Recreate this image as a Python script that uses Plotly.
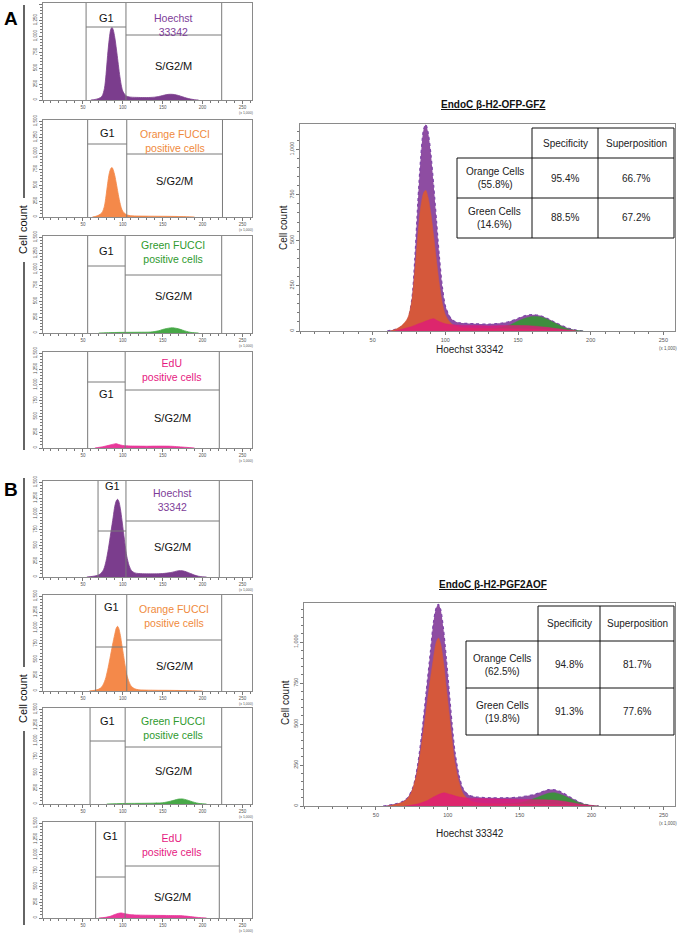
import plotly.graph_objects as go

W, H = 684, 938
FONT = "Arial, Liberation Sans, sans-serif"

def PX(p):
    return p / W

def PY(p):
    return 1 - p / H

# ---------------- DATA ----------------
# Panel A (EndoC b-H2-OFP-GFZ) histograms, Hoechst 33342 (x 1,000) vs cell count
A_hoechst_x = [60, 65, 70, 74, 77, 79, 81, 83, 85, 86.5, 88, 90, 92, 94, 96, 98, 100, 103, 106, 110, 120, 130, 140, 145, 150, 155, 160, 165, 170, 175, 180, 185, 190, 195]
A_hoechst_y = [0, 8, 25, 60, 180, 400, 700, 950, 1110, 1137, 1100, 980, 800, 600, 400, 240, 140, 80, 55, 45, 40, 38, 45, 55, 70, 85, 90, 85, 70, 50, 30, 15, 5, 0]
A_orange_x = [62, 66, 70, 74, 77, 79, 81, 83, 85, 86.5, 88, 90, 92, 94, 96, 98, 100, 103, 106, 110, 120, 140, 160, 180, 190]
A_orange_y = [0, 10, 30, 70, 170, 330, 520, 680, 760, 775, 740, 650, 520, 380, 250, 150, 90, 50, 30, 20, 15, 12, 10, 5, 0]
A_green_x = [70, 80, 90, 100, 120, 135, 145, 150, 155, 160, 165, 170, 175, 180, 185, 190, 195]
A_green_y = [0, 5, 8, 10, 12, 15, 35, 55, 70, 80, 78, 65, 45, 25, 10, 3, 0]
A_edu_x = [65, 70, 75, 80, 85, 90, 92, 95, 100, 110, 120, 130, 140, 150, 160, 170, 180, 190]
A_edu_y = [0, 10, 20, 35, 50, 65, 68, 55, 40, 32, 30, 28, 30, 30, 28, 20, 10, 0]

# Panel B (EndoC b-H2-PGF2AOF)
B_hoechst_x = [55, 62, 68, 72, 76, 79, 82, 85, 88, 90, 92, 93.5, 95, 97, 99, 101, 103, 105, 108, 111, 115, 120, 130, 140, 150, 160, 165, 170, 175, 180, 185, 190, 195, 200, 205]
B_hoechst_y = [0, 10, 25, 50, 120, 250, 450, 700, 950, 1120, 1210, 1230, 1200, 1080, 900, 700, 500, 330, 180, 100, 65, 55, 50, 50, 55, 70, 85, 100, 98, 80, 55, 30, 12, 3, 0]
B_orange_x = [58, 64, 70, 74, 78, 81, 84, 87, 90, 92, 93.5, 95, 97, 99, 101, 103, 105, 108, 111, 115, 120, 140, 160, 180, 200]
B_orange_y = [0, 10, 30, 70, 180, 330, 520, 720, 900, 1000, 1024, 990, 880, 720, 560, 400, 260, 140, 70, 35, 20, 12, 10, 6, 0]
B_green_x = [80, 100, 130, 150, 160, 165, 170, 175, 180, 185, 190, 195, 200, 205]
B_green_y = [0, 8, 12, 20, 45, 62, 78, 80, 65, 45, 25, 10, 3, 0]
B_edu_x = [70, 78, 85, 90, 95, 98, 102, 108, 115, 125, 140, 155, 165, 175, 185, 195, 205]
B_edu_y = [0, 10, 30, 55, 75, 80, 70, 55, 48, 45, 42, 40, 38, 35, 22, 8, 0]

# Tables
table_header = ["Specificity", "Superposition"]
A_row_names = ["Orange Cells", "Green Cells"]
A_row_pct = ["55.8%", "14.6%"]
A_specificity = ["95.4%", "88.5%"]
A_superposition = ["66.7%", "67.2%"]
B_row_names = ["Orange Cells", "Green Cells"]
B_row_pct = ["62.5%", "19.8%"]
B_specificity = ["94.8%", "91.3%"]
B_superposition = ["81.7%", "77.6%"]

titles = ["EndoC β-H2-OFP-GFZ", "EndoC β-H2-PGF2AOF"]
small_labels = ["Hoechst<br>33342", "Orange FUCCI<br>positive cells", "Green FUCCI<br>positive cells", "EdU<br>positive cells"]
small_ticks_x = [50, 100, 150, 200, 250]
small_ticks_y = [0, 250, 500, 750, 1000, 1250, 1500]
big_ticks_y = [0, 250, 500, 750, 1000]

# ---------------- STYLE ----------------
SM_COL = {"h": "#7B3D8D", "o": "#F4894A", "g": "#47A847", "e": "#E8399A"}
LBL_COL = ["#7D3C98", "#F08A3C", "#2E9A2E", "#E6197F"]
BIG_FILL = {"h": "#8E4DA2", "o": "#D5583B", "g": "#3E8E3E", "e": "rgba(222,26,122,0.8)"}

fig = go.Figure()
layout = dict(width=W, height=H, margin=dict(l=0, r=0, t=0, b=0, pad=0, autoexpand=False),
              template="none",
              paper_bgcolor="white", plot_bgcolor="white", showlegend=False,
              font=dict(family=FONT, color="#222"))
shapes = []
annots = []

def ann(**kw):
    kw.setdefault("showarrow", False)
    kw.setdefault("xanchor", "center")
    kw.setdefault("yanchor", "middle")
    annots.append(kw)

def axis_names(i):
    if i == 0:
        return "x", "y", "xaxis", "yaxis"
    return f"x{i+1}", f"y{i+1}", f"xaxis{i+1}", f"yaxis{i+1}"

def add_axes(i, xdom, ydom, xrange, yrange, yticks, fs):
    xa, ya, xk, yk = axis_names(i)
    common = dict(showline=True, linecolor="#8a8a8a", linewidth=1, mirror=True,
                  ticks="outside", ticklen=3, tickcolor="#777", showgrid=False,
                  zeroline=False, fixedrange=True, automargin=False,
                  tickfont=dict(size=fs, color="#555", family=FONT))
    layout[xk] = dict(domain=xdom, range=xrange, anchor=ya, tickmode="array",
                      tickvals=small_ticks_x,
                      minor=dict(tickmode="linear", tick0=0, dtick=10, ticklen=2,
                                 ticks="outside", tickcolor="#777"), **common)
    layout[yk] = dict(domain=ydom, range=yrange, anchor=xa, tickmode="array",
                      tickvals=yticks, tickformat=",", tickangle=-90,
                      minor=dict(tickmode="linear", tick0=0, dtick=50, ticklen=2,
                                 ticks="outside", tickcolor="#777"), **common)
    return xa, ya

# ---------------- SMALL PANELS ----------------
series_A = [(A_hoechst_x, A_hoechst_y, "h"), (A_orange_x, A_orange_y, "o"),
            (A_green_x, A_green_y, "g"), (A_edu_x, A_edu_y, "e")]
series_B = [(B_hoechst_x, B_hoechst_y, "h"), (B_orange_x, B_orange_y, "o"),
            (B_green_x, B_green_y, "g"), (B_edu_x, B_edu_y, "e")]

# (top, bottom, gates(g1_left, g1_right, s_right), g1_line, s_line, g1_text, label_y, s_text)
small_pos_A = [
    (3, 100, (54, 104, 224), 27, 35, 18, 25, 66),
    (120, 217, (56, 105, 225), 144, 154, 133, 141, 181),
    (236, 333, (56, 103, 224), 266, 275, 251, 252, 296),
    (352, 448, (56, 103, 221), 382, 390, 394, 370, 418),
]
small_pos_B = [
    (481, 577, (69, 104, 221), 531, 521, 486, 500, 547),
    (595, 691, (66, 105, 224), 647, 640, 607, 616, 666),
    (708, 804, (59, 103, 224), 741, 747, 721, 728, 771),
    (822, 918, (66, 103, 221), 877, 866, 836, 845, 897),
]

idx = 0
for series, positions in [(series_A, small_pos_A), (series_B, small_pos_B)]:
    for k, (sx, sy, key) in enumerate(series):
        top, bot, gates, g1l, sl, g1t, lt, st = positions[k]
        xa, ya = add_axes(idx, [PX(43), PX(252)], [PY(bot), PY(top)], [0, 262], [0, 1520], small_ticks_y, 4.5)
        fig.add_trace(go.Scatter(x=sx, y=sy, mode="lines", line=dict(color=SM_COL[key], width=0.8, shape="spline", smoothing=0.8),
                                 fill="tozeroy", fillcolor=SM_COL[key], xaxis=xa, yaxis=ya, hoverinfo="skip"))
        gl, gr, sr = gates
        lc = dict(color="#7a7a7a", width=1)
        for gx in (gl, gr, sr):
            shapes.append(dict(type="line", xref=xa, yref="paper", x0=gx, x1=gx, y0=PY(bot), y1=PY(top), line=lc))
        shapes.append(dict(type="line", xref=xa, yref="paper", x0=gl, x1=gr, y0=PY(g1l), y1=PY(g1l), line=lc))
        shapes.append(dict(type="line", xref=xa, yref="paper", x0=gr, x1=sr, y0=PY(sl), y1=PY(sl), line=lc))
        ann(x=(gl + gr) / 2, y=PY(g1t), xref=xa, yref="paper", text="G1",
            font=dict(size=11, color="#111", family=FONT))
        ann(x=(gr + sr) / 2, y=PY(lt), xref=xa, yref="paper", text=small_labels[k],
            font=dict(size=10.5, color=LBL_COL[k], family=FONT))
        ann(x=(gr + sr) / 2, y=PY(st), xref=xa, yref="paper", text="S/G2/M",
            font=dict(size=11, color="#111", family=FONT))
        ann(x=PX(246), y=PY(bot + 13), xref="paper", yref="paper", text="(x 1,000)",
            font=dict(size=3.5, color="#555", family=FONT))
        idx += 1

# ---------------- BIG PANELS ----------------
big_specs = [
    dict(series=series_A, xdom=[PX(300), PX(675)], top=124, bot=331, yr=1140, title_y=104,
         xt_y=349, yt=(283, 228), names=A_row_names, pct=A_row_pct, spec=A_specificity, sup=A_superposition,
         tcols=(457, 532, 598, 674), trows=(128, 158, 198, 238)),
    dict(series=series_B, xdom=[PX(304), PX(675)], top=603, bot=806, yr=1238, title_y=584,
         xt_y=833, yt=(285, 703), names=B_row_names, pct=B_row_pct, spec=B_specificity, sup=B_superposition,
         tcols=(466, 538, 600, 674), trows=(606, 641, 688, 735)),
]
for bi, b in enumerate(big_specs):
    xa, ya = add_axes(idx, b["xdom"], [PY(b["bot"]), PY(b["top"])], [0, 258], [0, b["yr"]], big_ticks_y, 5.5)
    order = [b["series"][0], b["series"][2], b["series"][1], b["series"][3]]
    for sx, sy, key in order:
        lcol = "#7E45A8" if key == "h" else BIG_FILL[key]
        fig.add_trace(go.Scatter(x=sx, y=sy, mode="lines",
                                 line=dict(color=lcol, width=1.2 if key == "h" else 0.5, shape="spline", smoothing=0.8,
                                           dash="dot" if key == "h" else "solid"),
                                 fill="tozeroy", fillcolor=BIG_FILL[key], xaxis=xa, yaxis=ya, hoverinfo="skip"))
    ann(x=PX(493), y=PY(b["title_y"]), xref="paper", yref="paper",
        text=f"<b><u>{titles[bi]}</u></b>", font=dict(size=10, color="#111", family=FONT))
    ann(x=PX(470), y=PY(b["xt_y"]), xref="paper", yref="paper", text="Hoechst 33342",
        font=dict(size=10, color="#222", family=FONT))
    ann(x=PX(b["yt"][0]), y=PY(b["yt"][1]), xref="paper", yref="paper", text="Cell count",
        textangle=-90, font=dict(size=10, color="#222", family=FONT))
    ann(x=PX(668), y=PY(b["bot"] + 17), xref="paper", yref="paper", text="(x 1,000)",
        font=dict(size=4.5, color="#555", family=FONT))
    # table
    c0, c1, c2, c3 = b["tcols"]
    r0, r1, r2, r3 = b["trows"]
    tl = dict(color="#111", width=1)
    shapes.append(dict(type="rect", xref="paper", yref="paper", x0=PX(c0), x1=PX(c3), y0=PY(r3), y1=PY(r1),
                       line=dict(width=0), fillcolor="white", layer="above"))
    shapes.append(dict(type="rect", xref="paper", yref="paper", x0=PX(c1), x1=PX(c3), y0=PY(r1), y1=PY(r0),
                       line=dict(width=0), fillcolor="white", layer="above"))
    segs = [((c1, r0), (c3, r0)), ((c0, r1), (c3, r1)), ((c0, r2), (c3, r2)), ((c0, r3), (c3, r3)),
            ((c0, r1), (c0, r3)), ((c1, r0), (c1, r3)), ((c2, r0), (c2, r3)), ((c3, r0), (c3, r3))]
    for (xa0, ya0), (xa1, ya1) in segs:
        shapes.append(dict(type="line", xref="paper", yref="paper", x0=PX(xa0), x1=PX(xa1),
                           y0=PY(ya0), y1=PY(ya1), line=tl, layer="above"))
    tf = dict(size=10, color="#222", family=FONT)
    for j, h in enumerate(table_header):
        cx = (c1 + c2) / 2 if j == 0 else (c2 + c3) / 2
        ann(x=PX(cx), y=PY((r0 + r1) / 2), xref="paper", yref="paper", text=h, font=tf)
    rows_y = [(r1 + r2) / 2, (r2 + r3) / 2]
    for j in range(2):
        ann(x=PX((c0 + c1) / 2), y=PY(rows_y[j]), xref="paper", yref="paper",
            text=f"{b['names'][j]}<br>({b['pct'][j]})", font=tf)
        ann(x=PX((c1 + c2) / 2), y=PY(rows_y[j]), xref="paper", yref="paper", text=b["spec"][j], font=tf)
        ann(x=PX((c2 + c3) / 2), y=PY(rows_y[j]), xref="paper", yref="paper", text=b["sup"][j], font=tf)
    idx += 1

# ---------------- BRACKETS & PANEL LETTERS ----------------
bl = dict(color="#111", width=1.3)
for (y0, y1) in [(5, 198), (262, 450), (478, 667), (731, 925)]:
    shapes.append(dict(type="line", xref="paper", yref="paper", x0=PX(24), x1=PX(24), y0=PY(y0), y1=PY(y1), line=bl))
for cy in (230, 699):
    ann(x=PX(23), y=PY(cy), xref="paper", yref="paper", text="Cell count", textangle=-90,
        font=dict(size=11, color="#111", family=FONT))
for letter, ly in (("A", 18), ("B", 489)):
    ann(x=PX(11), y=PY(ly), xref="paper", yref="paper", text=f"<b>{letter}</b>",
        font=dict(size=19, color="#000", family=FONT))

layout["shapes"] = shapes
layout["annotations"] = annots
fig.update_layout(**layout)
fig.write_html("out.html", config={"displayModeBar": False},
               post_script="document.body.style.margin='0';document.body.style.overflow='hidden';")
